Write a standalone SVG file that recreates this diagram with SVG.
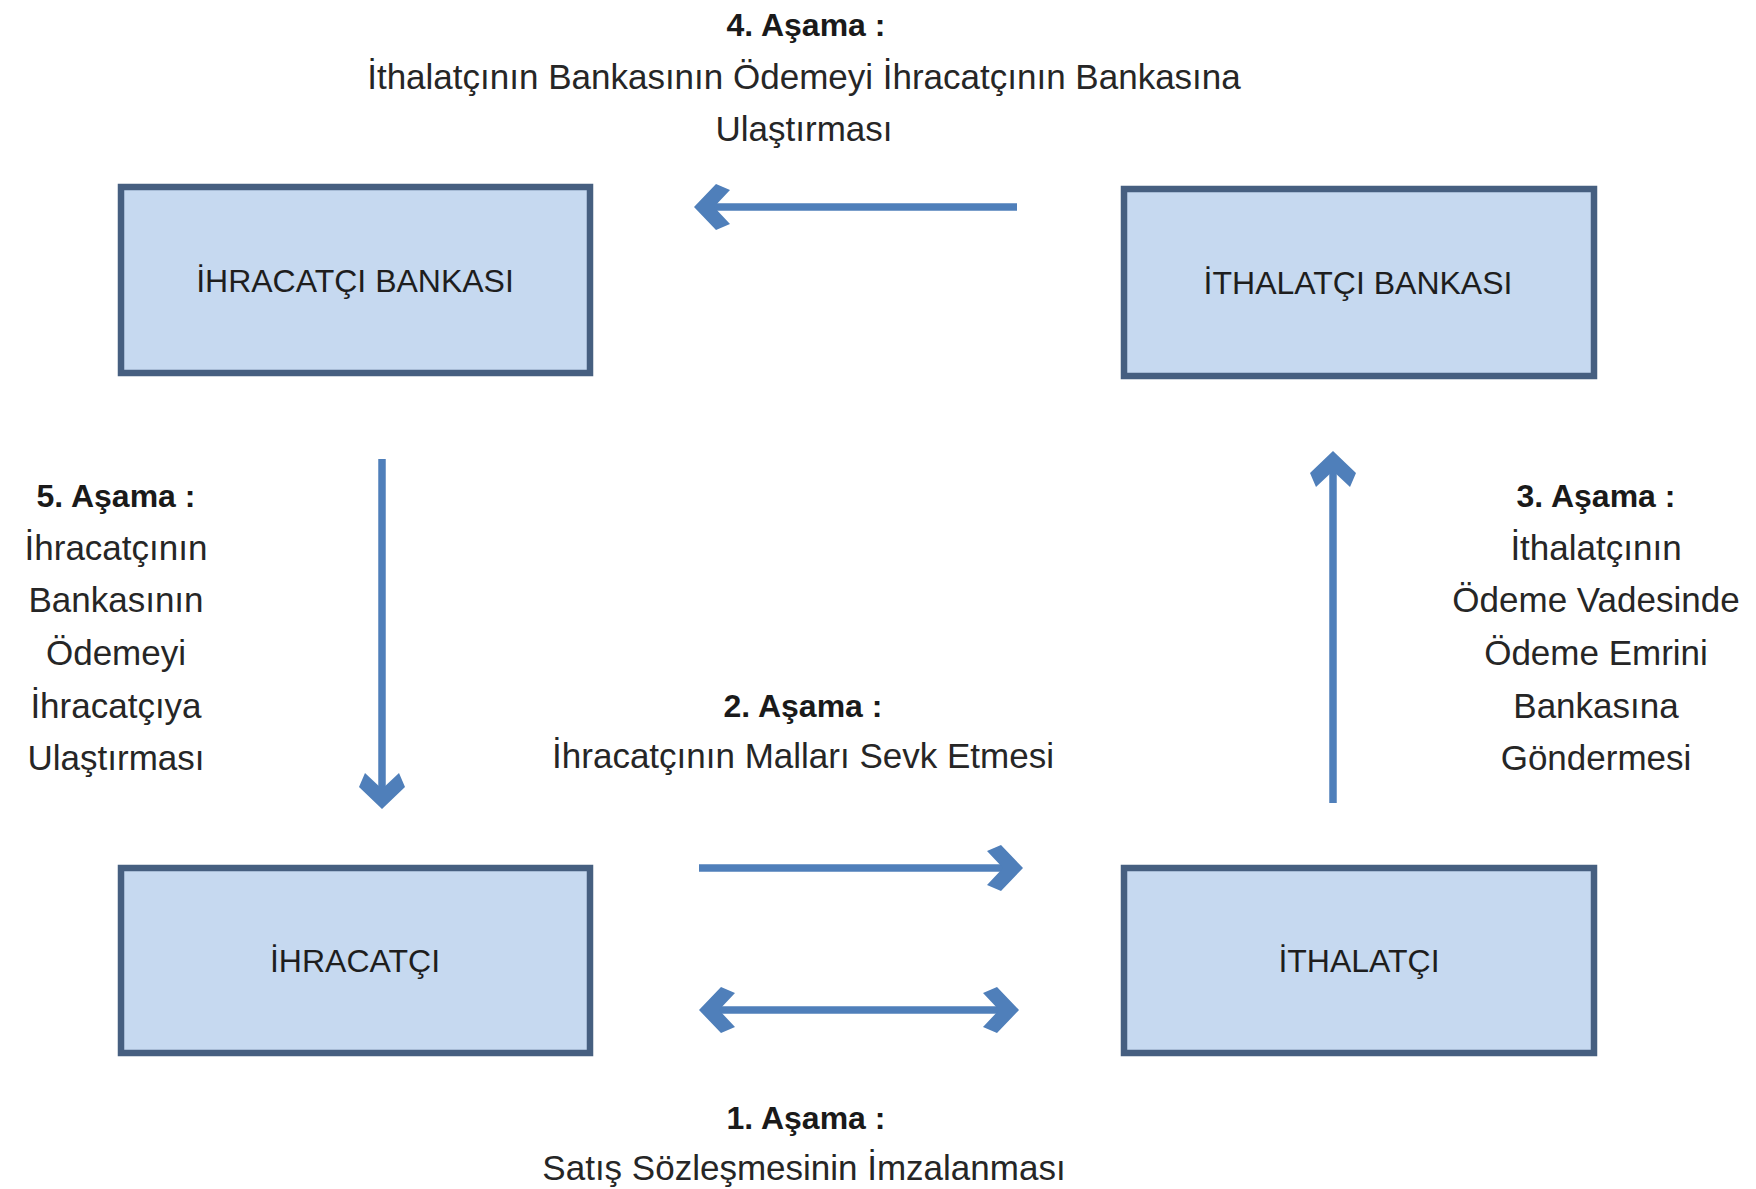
<svg xmlns="http://www.w3.org/2000/svg" width="1756" height="1189" viewBox="0 0 1756 1189">
<style>
.box{fill:#c6d9f0;stroke:#465f80;stroke-width:6.5}
.bt{font-family:"Liberation Sans",Arial,sans-serif;font-size:32px;fill:#1e1e1e;text-anchor:middle}
.lb{font-family:"Liberation Sans",Arial,sans-serif;font-size:35px;fill:#262626;text-anchor:middle}
.hd{font-family:"Liberation Sans",Arial,sans-serif;font-size:32px;font-weight:bold;fill:#1a1a1a;text-anchor:middle}
.ar{stroke:#4f7fba;stroke-width:7.5;fill:none}
</style>
<defs>
<marker id="head" markerUnits="userSpaceOnUse" viewBox="-32 -26 44 52" markerWidth="44" markerHeight="52" refX="0" refY="0" orient="auto-start-reverse">
<path d="M9,0 L-13,-23 L-27,-17 L-11,0 L-27,17 L-13,23 Z" fill="#4f7fba"/>
</marker>
</defs>
<rect width="1756" height="1189" fill="#ffffff"/>
<g id="connectors">
<line class="ar" x1="1017" y1="207" x2="703" y2="207" marker-end="url(#head)"/>
<line class="ar" x1="382" y1="459" x2="382" y2="800" marker-end="url(#head)"/>
<line class="ar" x1="1333" y1="803" x2="1333" y2="460" marker-end="url(#head)"/>
<line class="ar" x1="699" y1="868" x2="1014" y2="868" marker-end="url(#head)"/>
<line class="ar" x1="708" y1="1010" x2="1010" y2="1010" marker-start="url(#head)" marker-end="url(#head)"/>
</g>
<g id="ihracatci-bankasi">
<rect class="box" x="121" y="187" width="469" height="186"/>
<text class="bt" x="355" y="292">İHRACATÇI BANKASI</text>
</g>
<g id="ithalatci-bankasi">
<rect class="box" x="1124" y="189" width="470" height="187"/>
<text class="bt" x="1358" y="294">İTHALATÇI BANKASI</text>
</g>
<g id="ihracatci">
<rect class="box" x="121" y="868" width="469" height="185"/>
<text class="bt" x="355" y="972">İHRACATÇI</text>
</g>
<g id="ithalatci">
<rect class="box" x="1124" y="868" width="470" height="185"/>
<text class="bt" x="1359" y="972">İTHALATÇI</text>
</g>
<g id="label-4">
<text class="hd" x="806" y="36">4. Aşama :</text>
<text class="lb" x="804" y="89">İthalatçının Bankasının Ödemeyi İhracatçının Bankasına</text>
<text class="lb" x="804" y="141">Ulaştırması</text>
</g>
<g id="label-5">
<text class="hd" x="116" y="507">5. Aşama :</text>
<text class="lb" x="116" y="560">İhracatçının</text>
<text class="lb" x="116" y="612">Bankasının</text>
<text class="lb" x="116" y="665">Ödemeyi</text>
<text class="lb" x="116" y="718">İhracatçıya</text>
<text class="lb" x="116" y="770">Ulaştırması</text>
</g>
<g id="label-3">
<text class="hd" x="1596" y="507">3. Aşama :</text>
<text class="lb" x="1596" y="560">İthalatçının</text>
<text class="lb" x="1596" y="612">Ödeme Vadesinde</text>
<text class="lb" x="1596" y="665">Ödeme Emrini</text>
<text class="lb" x="1596" y="718">Bankasına</text>
<text class="lb" x="1596" y="770">Göndermesi</text>
</g>
<g id="label-2">
<text class="hd" x="803" y="717">2. Aşama :</text>
<text class="lb" x="803" y="768">İhracatçının Malları Sevk Etmesi</text>
</g>
<g id="label-1">
<text class="hd" x="806" y="1129">1. Aşama :</text>
<text class="lb" x="804" y="1180">Satış Sözleşmesinin İmzalanması</text>
</g>
</svg>
